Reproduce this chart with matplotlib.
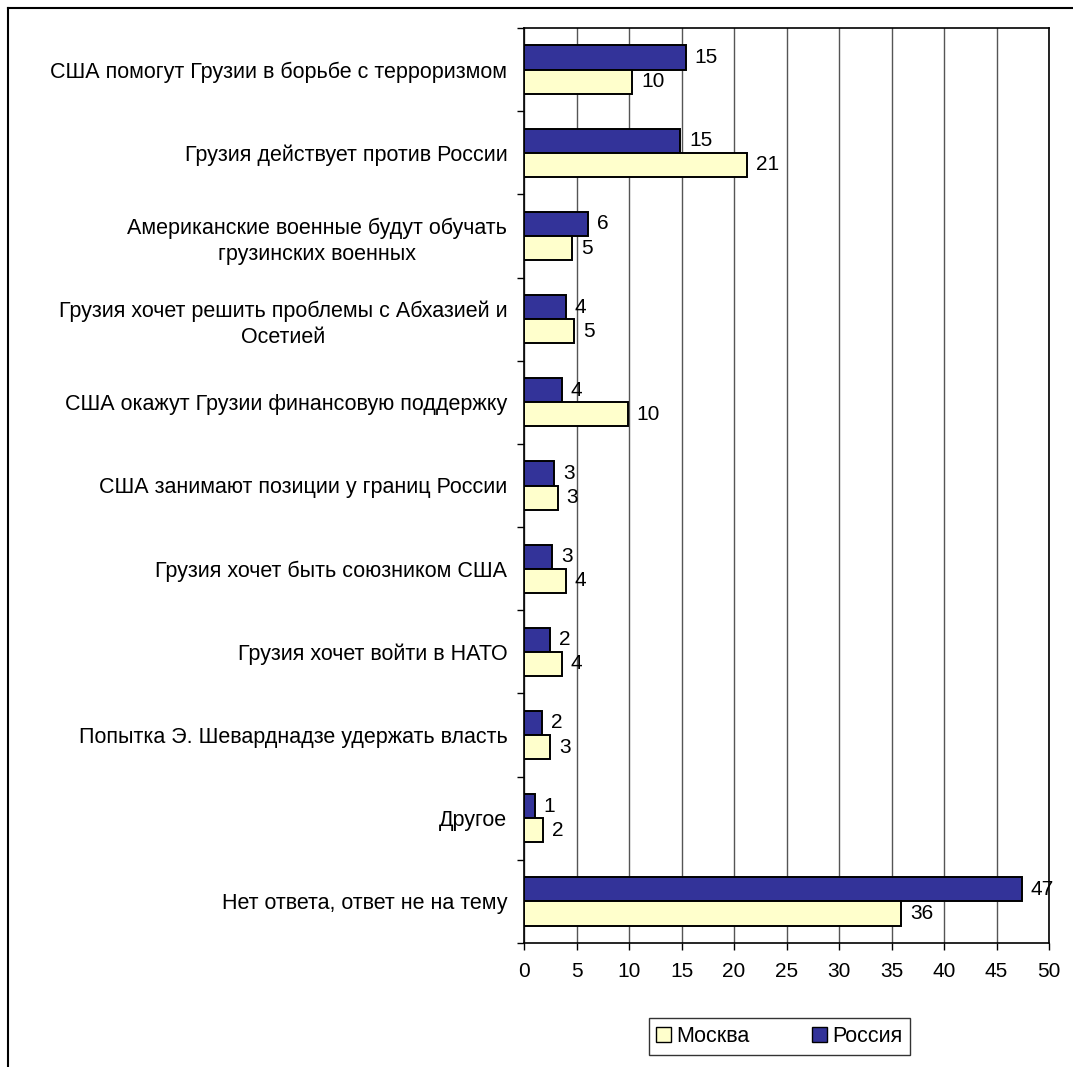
import matplotlib
matplotlib.use("Agg")
import matplotlib.pyplot as plt
from matplotlib.lines import Line2D
from matplotlib.patches import Patch
import numpy as np

plt.rcParams['font.family'] = ['Liberation Sans', 'DejaVu Sans']

categories = [
    "США помогут Грузии в борьбе с терроризмом",
    "Грузия действует против России",
    "Американские военные будут обучать\nгрузинских военных",
    "Грузия хочет решить проблемы с Абхазией и\nОсетией",
    "США окажут Грузии финансовую поддержку",
    "США занимают позиции у границ России",
    "Грузия хочет быть союзником США",
    "Грузия хочет войти в НАТО",
    "Попытка Э. Шеварднадзе удержать власть",
    "Другое",
    "Нет ответа, ответ не на тему",
]
russia = [15.4, 14.9, 6.1, 4.0, 3.6, 2.9, 2.7, 2.5, 1.7, 1.0, 47.4]
moscow = [10.3, 21.2, 4.6, 4.8, 9.9, 3.2, 4.0, 3.6, 2.5, 1.8, 35.9]
russia_labels = ["15", "15", "6", "4", "4", "3", "3", "2", "2", "1", "47"]
moscow_labels = ["10", "21", "5", "5", "10", "3", "4", "4", "3", "2", "36"]
xticks = [0, 5, 10, 15, 20, 25, 30, 35, 40, 45, 50]

W, H = 1073, 1067
fig = plt.figure(figsize=(W / 100, H / 100), dpi=100)
ax = fig.add_axes([524 / W, 1 - 943 / H, (1049 - 524) / W, (943 - 28) / H])

n = len(categories)
y = np.arange(n)
bh = 0.29
ax.barh(y - bh / 2, russia, height=bh, color='#333399', edgecolor='black', linewidth=1.4, zorder=3, label='Россия')
ax.barh(y + bh / 2, moscow, height=bh, color='#FFFFCC', edgecolor='black', linewidth=1.4, zorder=3, label='Москва')

for i in range(n):
    ax.text(russia[i] + 0.85, y[i] - bh / 2, russia_labels[i], va='center', ha='left', fontsize=15, zorder=4)
    ax.text(moscow[i] + 0.85, y[i] + bh / 2, moscow_labels[i], va='center', ha='left', fontsize=15, zorder=4)

ax.set_xlim(0, 50)
ax.set_ylim(n - 0.5, -0.5)
ax.set_xticks(xticks)
ax.set_xticklabels([str(v) for v in xticks], fontsize=15)
ax.tick_params(axis='x', direction='out', length=5, width=1, pad=9)
ax.grid(axis='x', color='#555555', linewidth=1, zorder=0)

ax.set_yticks(np.arange(n + 1) - 0.5)
ax.set_yticklabels([])
ax.tick_params(axis='y', which='major', direction='out', length=5, width=1)
ax.set_yticks(y, minor=True)
ax.set_yticklabels(categories, minor=True, fontsize=15.5)
ax.tick_params(axis='y', which='minor', length=0, pad=12)
for lab in ax.get_yticklabels(minor=True):
    lab.set_multialignment('center')
    lab.set_linespacing(1.35)

for s in ax.spines.values():
    s.set_color('black')
    s.set_linewidth(1.2)

handles = [Patch(facecolor='#FFFFCC', edgecolor='black', label='Москва'),
           Patch(facecolor='#333399', edgecolor='black', label='Россия')]
leg = fig.legend(handles=handles, loc='center', bbox_to_anchor=(779.5 / W, 1 - 1036.5 / H),
                 ncol=2, fontsize=15.5, frameon=True, fancybox=False, edgecolor='black',
                 handlelength=0.7, handleheight=0.7, handletextpad=0.25, columnspacing=2.9,
                 borderpad=0.35, borderaxespad=0)
leg.get_frame().set_linewidth(1)

fig.add_artist(Line2D([8 / W, 1], [1 - 8 / H, 1 - 8 / H], transform=fig.transFigure, color='black', linewidth=1.5))
fig.add_artist(Line2D([8 / W, 8 / W], [0, 1 - 8 / H], transform=fig.transFigure, color='black', linewidth=1.5))

fig.savefig('out.png', dpi=100, facecolor='white')
